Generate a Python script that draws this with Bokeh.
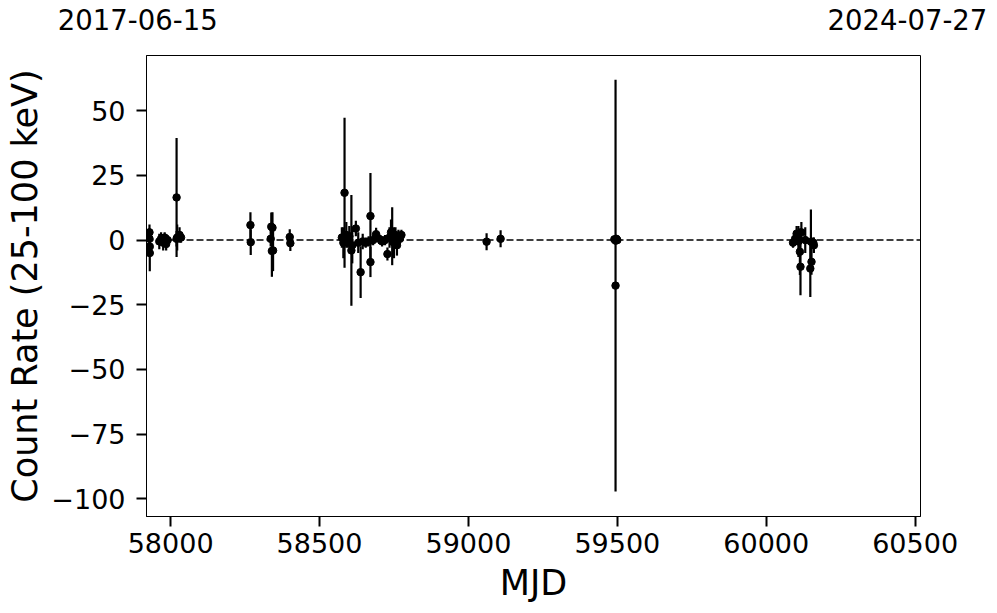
import numpy as np
from bokeh.plotting import figure
from bokeh.models import ColumnDataSource, Span, FixedTicker, Range1d, LinearAxis
from bokeh.embed import file_html
from bokeh.resources import INLINE

# ---- data ----
mjd = [57929, 57929, 57930, 57930,
       57962, 57968, 57975, 57980, 57985, 57990,
       58020, 58020, 58022, 58030, 58035,
       58268, 58269,
       58336, 58338, 58340, 58342, 58344,
       58400, 58402,
       58575, 58580, 58584, 58590, 58595, 58600, 58607, 58610, 58622, 58630,
       58638, 58645, 58655, 58665, 58671, 58671, 58680, 58690, 58700, 58710,
       58720, 58728, 58735, 58740, 58744, 58750, 58755, 58760, 58765, 58770, 58775,
       59061, 59108,
       59490, 59494, 59494, 59497, 59500,
       60090, 60097, 60102, 60108, 60113, 60115, 60118, 60131, 60148, 60150,
       60152, 60158, 60160]
rate = [3.0, 0.5, -2.5, -5.0,
        -0.5, 0.5, -1.0, 1.0, -1.5, 0.0,
        16.5, 0.5, 1.0, 2.0, 1.0,
        5.8, -0.8,
        0.5, 5.2, -4.2, 4.8, -4.0,
        1.2, -1.2,
        1.0, -1.0, 18.3, 2.0, 0.0, 1.5, -4.0, -2.0, 4.5, -1.0,
        -12.4, -0.5, -1.0, -0.5, 9.3, -8.5, 0.0, 2.3, 0.5, -0.5,
        0.0, -5.4, 1.0, 3.0, 1.5, -1.0, 2.0, -2.0, 1.0, 0.5, 2.0,
        -0.6, 0.5,
        0.3, -0.2, -17.6, 0.5, 0.0,
        -1.0, 0.5, 2.5, -0.5, -4.5, -10.3, 3.0, 0.0, -11.0, -0.6,
        -8.4, -1.0, -2.0]
err = [3.0, 4.0, 4.0, 7.0,
       3.0, 2.5, 3.0, 2.0, 2.5, 2.0,
       23.0, 3.0, 5.0, 3.0, 2.0,
       5.0, 5.0,
       3.0, 5.5, 10.0, 6.0, 8.0,
       3.0, 3.0,
       4.0, 6.0, 29.0, 5.0, 3.0, 4.0, 21.4, 7.0, 3.0, 4.0,
       10.0, 3.0, 2.0, 2.0, 16.7, 5.8, 2.0, 2.5, 2.0, 2.0,
       2.0, 2.5, 4.0, 5.0, 11.2, 6.0, 3.0, 4.0, 3.0, 2.0, 2.0,
       3.3, 3.3,
       1.0, 1.5, 79.6, 1.0, 1.0,
       2.0, 2.0, 3.0, 6.0, 9.0, 11.0, 4.0, 5.0, 11.0, 12.4,
       5.0, 2.0, 3.0]

x_ticks = [58000, 58500, 59000, 59500, 60000, 60500]
y_ticks = [-100, -75, -50, -25, 0, 25, 50]
date_labels = ["2017-06-15", "2024-07-27"]
x_lo, x_hi = 57919, 60518
date_label_mjd = [x_lo, 60474]   # where the two date labels are centred
y_lo, y_hi = -106.9, 71.4

FONT = "DejaVu Sans"

src = ColumnDataSource(dict(
    x=mjd, y=rate,
    lo=[r - e for r, e in zip(rate, err)],
    hi=[r + e for r, e in zip(rate, err)],
))

p = figure(width=989, height=605, output_backend="svg", toolbar_location=None,
           x_range=Range1d(x_lo, x_hi), y_range=Range1d(y_lo, y_hi),
           min_border_left=146, min_border_right=69, min_border_top=55,
           min_border_bottom=88)
p.background_fill_color = "white"
p.border_fill_color = "white"
p.outline_line_color = "black"
p.outline_line_width = 1
p.xgrid.visible = False
p.ygrid.visible = False

p.add_layout(Span(location=0, dimension="width", line_color="black",
                  line_dash="7 3", line_width=1.5))

p.segment(x0="x", y0="lo", x1="x", y1="hi", source=src,
          line_color="black", line_width=2.2)
p.scatter(x="x", y="y", source=src, size=7.5, color="black")

for ax in (p.xaxis[0], p.yaxis[0]):
    ax.axis_line_color = "black"
    ax.axis_line_width = 1
    ax.major_tick_out = 10
    ax.major_tick_in = 0
    ax.major_tick_line_width = 2
    ax.major_tick_line_color = "black"
    ax.minor_tick_line_color = None
    ax.major_label_text_font = FONT
    ax.major_label_text_font_size = "27px"
    ax.major_label_text_color = "black"
    ax.axis_label_text_font = FONT
    ax.axis_label_text_font_size = "35px"
    ax.axis_label_text_font_style = "normal"
    ax.axis_label_text_color = "black"

p.xaxis.major_label_standoff = 6
p.yaxis.major_label_standoff = 11
p.xaxis.ticker = FixedTicker(ticks=x_ticks)
p.yaxis.ticker = FixedTicker(ticks=y_ticks)
p.yaxis.major_label_overrides = {t: (str(t).replace("-", "\u2212")) for t in y_ticks}
p.xaxis.axis_label = "MJD"
p.yaxis.axis_label = "Count Rate (25-100 keV)"
p.xaxis.axis_label_standoff = 7
p.yaxis.axis_label_standoff = 3

# top axis carrying the start / end dates (left one padded so it sits left of the frame edge)
top_overrides = {date_label_mjd[0]: date_labels[0] + "\u00a0\u00a0",
                 date_label_mjd[1]: date_labels[1]}
top_ax = LinearAxis(ticker=FixedTicker(ticks=date_label_mjd),
                    major_label_overrides=top_overrides,
                    axis_line_color=None, major_tick_line_color=None,
                    minor_tick_line_color=None, major_tick_out=0, major_tick_in=0,
                    major_label_standoff=20,
                    major_label_text_font=FONT, major_label_text_font_size="27.5px",
                    major_label_text_color="black")
p.add_layout(top_ax, "above")

open("out.html", "w").write(file_html(p, INLINE))
